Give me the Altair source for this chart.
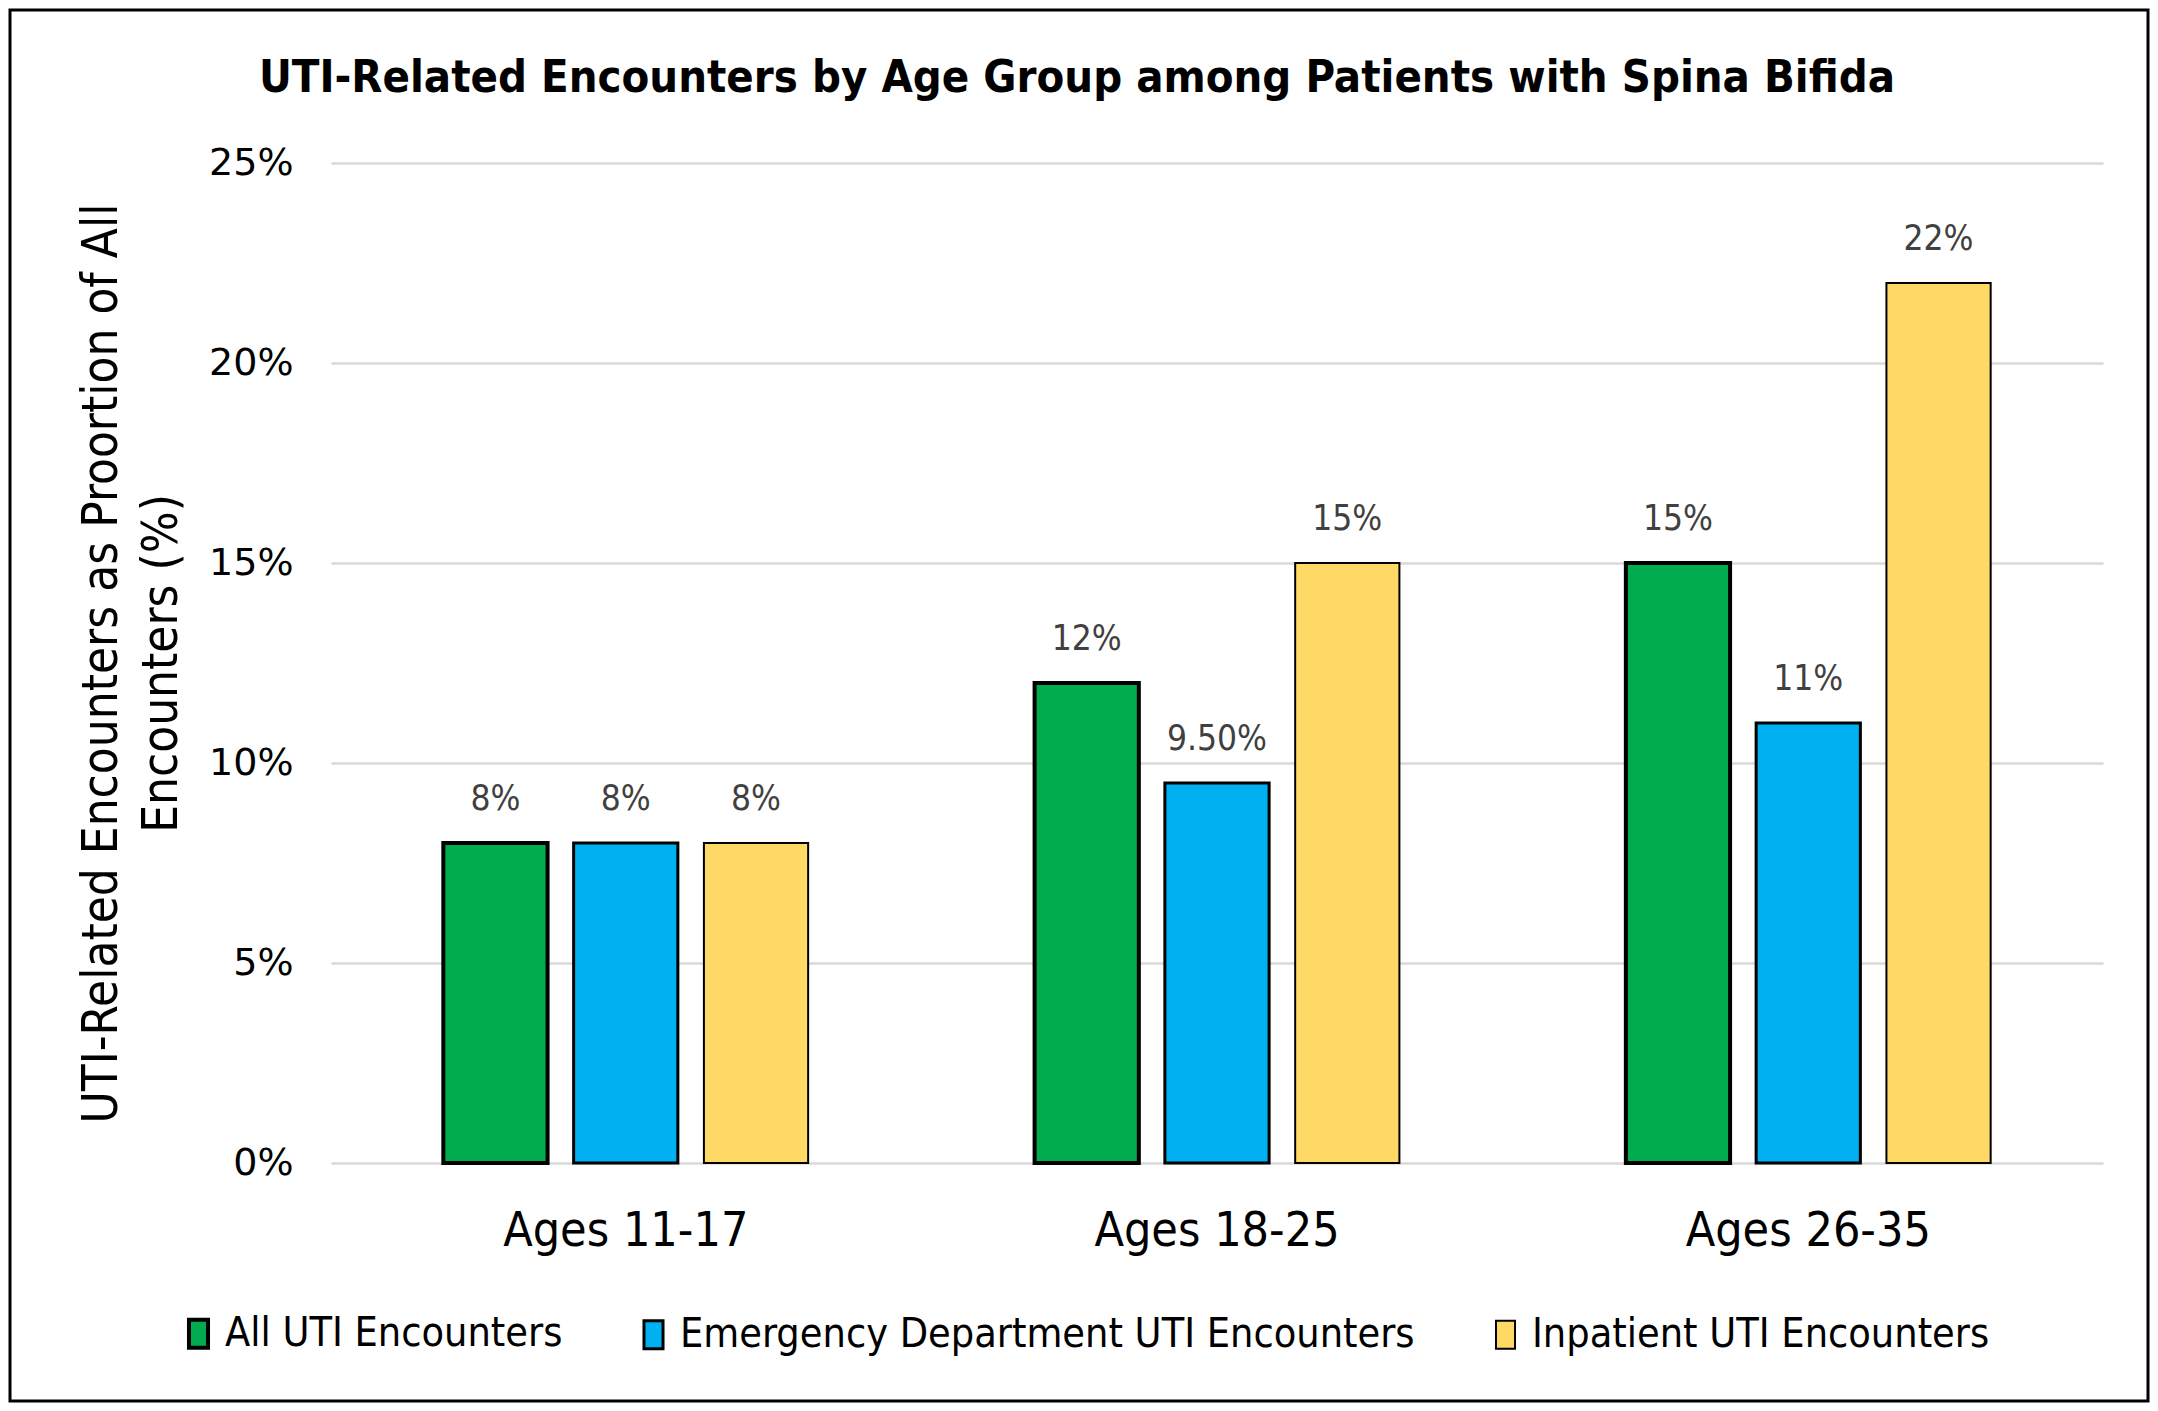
import altair as alt
import pandas as pd

groups = ["Ages 11-17", "Ages 18-25", "Ages 26-35"]
series = ["All UTI Encounters", "Emergency Department UTI Encounters", "Inpatient UTI Encounters"]
all_uti = [0.08, 0.12, 0.15]
ed_uti = [0.08, 0.095, 0.11]
inpatient_uti = [0.08, 0.15, 0.22]
all_lbl = ["8%", "12%", "15%"]
ed_lbl = ["8%", "9.50%", "11%"]
inp_lbl = ["8%", "15%", "22%"]
colors = ["#00AC4E", "#00B0F0", "#FFD966"]

rows = []
for vals, lbls, s in [(all_uti, all_lbl, series[0]), (ed_uti, ed_lbl, series[1]), (inpatient_uti, inp_lbl, series[2])]:
    for g, v, l in zip(groups, vals, lbls):
        rows.append({"group": g, "series": s, "value": v, "label": l})
df = pd.DataFrame(rows)

NARROW = "Liberation Sans Narrow, DejaVu Sans Condensed, sans-serif"

x = alt.X("group:N", sort=groups, title=None,
          scale=alt.Scale(paddingInner=0.383, paddingOuter=0.19),
          axis=alt.Axis(labelAngle=0, labelFontSize=48, labelFont=NARROW, labelColor="#000000",
                        labelPadding=44, labelLimit=0, ticks=False, domain=False))
xo = alt.XOffset("series:N", sort=series, scale=alt.Scale(paddingInner=0.2, paddingOuter=0))
y = alt.Y("value:Q", title=["UTI-Related Encounters as Proortion of All", "Encounters (%)"],
          scale=alt.Scale(domain=[0, 0.25]),
          axis=alt.Axis(values=[0, 0.05, 0.1, 0.15, 0.2, 0.25], format=".0%", labelFontSize=38,
                        labelFont="DejaVu Sans", labelColor="#000000", labelPadding=38,
                        ticks=False, domain=False, grid=True, gridColor="#D9D9D9", gridWidth=2.5,
                        titleFontSize=49, titleFont=NARROW, titleFontWeight="normal",
                        titleColor="#000000", titlePadding=22, titleLineHeight=60, titleLimit=0))

bars = alt.Chart(df).mark_bar(stroke="#000000").encode(
    x=x, xOffset=xo, y=y,
    color=alt.Color("series:N", sort=series, scale=alt.Scale(domain=series, range=colors), title=None,
                    legend=alt.Legend(orient="none", legendX=-153, legendY=1150, direction="horizontal",
                                      labelFontSize=41, labelFont=NARROW, labelColor="#000000",
                                      labelLimit=0,
                                      symbolType="M-0.68,-1 L0.68,-1 L0.68,1 L-0.68,1 Z",
                                      symbolSize=784, symbolStrokeColor="#000000", symbolStrokeWidth=2.5,
                                      symbolOpacity=1, columnPadding=70, labelOffset=6)),
    strokeWidth=alt.StrokeWidth("series:N", sort=series,
                                scale=alt.Scale(domain=series, range=[4, 2, 2]), legend=None),
)

labels = alt.Chart(df).mark_text(baseline="bottom", dy=-26, fontSize=35, font=NARROW, color="#404040").encode(
    x=x, xOffset=xo, y=y, text="label:N"
)

frame = alt.Chart(df).mark_rect(fill=None, stroke="#000000", strokeWidth=3).encode(
    x=alt.value(-321), x2=alt.value(1817), y=alt.value(-153), y2=alt.value(1238)
).transform_filter("datum.group == 'Ages 11-17' && datum.series == 'All UTI Encounters'")

chart = alt.layer(bars, labels, frame).properties(
    width=1772, height=1000,
    autosize=alt.AutoSizeParams(type="none"),
    padding={"left": 323, "top": 155, "right": 47, "bottom": 240},
    background="#FFFFFF",
    title=alt.TitleParams("UTI-Related Encounters by Age Group among Patients with Spina Bifida",
                          fontSize=45, font=NARROW, fontWeight="bold", color="#000000",
                          anchor="middle", dx=-140, offset=-92),
).configure_view(stroke=None)

chart.save("out.html", embed_options={"renderer": "svg", "actions": False})
